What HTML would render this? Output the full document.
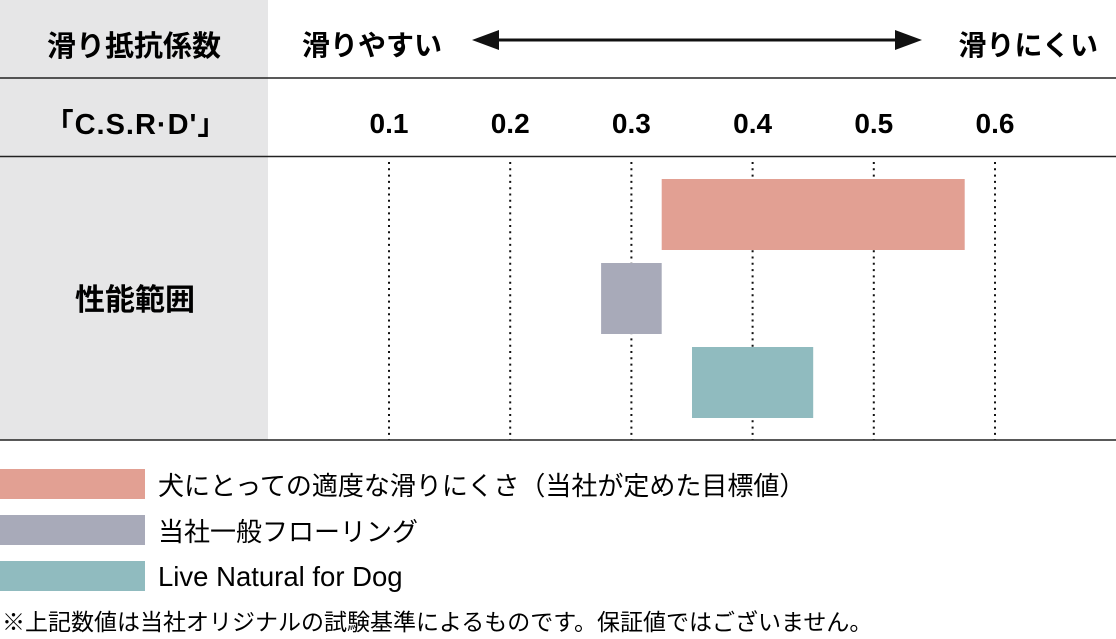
<!DOCTYPE html>
<html><head><meta charset="utf-8"><style>
body{margin:0;width:1116px;height:634px;background:#fff;overflow:hidden;font-family:"Liberation Sans","Noto Sans CJK JP",sans-serif;color:#111}
svg text{font-family:"Liberation Sans","Noto Sans CJK JP",sans-serif}
</style></head><body>
<svg id="c" width="1116" height="634">
<rect x="0" y="0" width="268" height="440" fill="#e6e6e7"/>
<line x1="0" y1="78" x2="1116" y2="78" stroke="#222" stroke-width="1.5"/>
<line x1="0" y1="156.5" x2="1116" y2="156.5" stroke="#222" stroke-width="1.5"/>
<line x1="0" y1="440" x2="1116" y2="440" stroke="#222" stroke-width="1.5"/>
<text x="134" y="56" font-size="29" font-weight="bold" text-anchor="middle">滑り抵抗係数</text>
<text x="136" y="134" font-size="29" font-weight="bold" text-anchor="middle" letter-spacing="1">「C.S.R·D'」</text>
<text x="135" y="310" font-size="30" font-weight="bold" text-anchor="middle">性能範囲</text>
<text x="302" y="55" font-size="28" font-weight="bold">滑りやすい</text>
<text x="1098" y="55" font-size="28" font-weight="bold" text-anchor="end">滑りにくい</text>
<line x1="490" y1="40" x2="900" y2="40" stroke="#111" stroke-width="3"/>
<polygon points="472,40 499,30 499,50" fill="#111"/>
<polygon points="922,40 895,30 895,50" fill="#111"/>
<g id="ticks"></g><g id="bars"></g>
<g>
<rect x="0" y="469" width="145" height="30" fill="#e2a093"/>
<text x="158" y="495" font-size="26">犬にとっての適度な滑りにくさ（当社が定めた目標値）</text>
<rect x="0" y="515" width="145" height="30" fill="#a8aab9"/>
<text x="158" y="541" font-size="26">当社一般フローリング</text>
<rect x="0" y="561" width="145" height="30" fill="#90bbbf"/>
<text x="158" y="586" font-size="27.5">Live Natural for Dog</text>
</g>
<text x="2" y="630" font-size="23">※上記数値は当社オリジナルの試験基準によるものです。保証値ではございません。</text>
</svg>
<script>
const tickValues=[0.1,0.2,0.3,0.4,0.5,0.6];
const tickLabels=["0.1","0.2","0.3","0.4","0.5","0.6"];
const barNames=["target","general","live"];
const barStart=[0.325,0.275,0.35];
const barEnd=[0.575,0.325,0.45];
const colors=["#e2a093","#a8aab9","#90bbbf"];
const NS="http://www.w3.org/2000/svg";
function x(v){return 389+(v-0.1)*1212;}
const tg=document.getElementById('ticks'),bg=document.getElementById('bars');
tickValues.forEach((v,i)=>{
 const t=document.createElementNS(NS,'text');
 t.setAttribute('x',x(v));t.setAttribute('y',133);t.setAttribute('font-size','28');t.setAttribute('font-weight','bold');t.setAttribute('text-anchor','middle');
 t.textContent=tickLabels[i];
 
 
 tg.appendChild(t);
 const l=document.createElementNS(NS,'line');
 l.setAttribute('x1',x(v));l.setAttribute('x2',x(v));l.setAttribute('y1',162);l.setAttribute('y2',440);
 l.setAttribute('stroke','#111');l.setAttribute('stroke-width','2');l.setAttribute('stroke-dasharray','2 4.3');
 
 
 tg.appendChild(l);
});
barNames.forEach((n,i)=>{
 const r=document.createElementNS(NS,'rect');
 r.setAttribute('x',x(barStart[i]));r.setAttribute('width',x(barEnd[i])-x(barStart[i]));
 r.setAttribute('y',179+i*84);r.setAttribute('height',71);r.setAttribute('fill',colors[i]);
 
 
 bg.appendChild(r);
});
</script>
</body></html>
